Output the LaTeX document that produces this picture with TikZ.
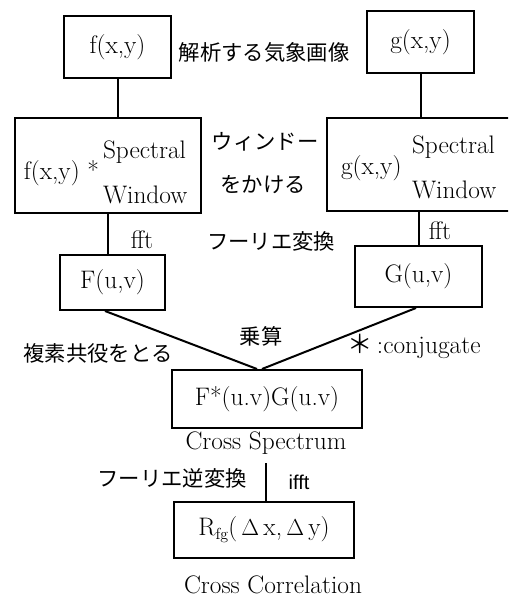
\documentclass[tikz,border=0pt]{standalone}
\usepackage{fontspec}
\newfontfamily\jpfont{Noto Sans CJK JP}
\newfontfamily\sansfont{Liberation Sans}
\begin{document}
\begin{tikzpicture}[x=0.75pt,y=-0.75pt, line width=1.5pt,
  box/.style={draw, rectangle, inner sep=0pt},
  lbl/.style={inner sep=0pt, font=\fontsize{19}{22}\selectfont},
  jlbl/.style={inner sep=0pt, font=\jpfont\fontsize{16}{19}\selectfont},
  slbl/.style={inner sep=0pt, font=\sansfont\fontsize{15}{18}\selectfont}]
\useasboundingbox (0,0) rectangle (508,599);
\begin{scope}
\clip (0,0) rectangle (508,599);
% boxes
\node[box, lbl, minimum width=80.25pt, minimum height=46.5pt] (fxy) at (117.5,47) {f(x,y)};
\node[box, lbl, minimum width=80.25pt, minimum height=46.5pt] (gxy) at (420.5,42) {g(x,y)};
\node[box, minimum width=139.5pt, minimum height=71.25pt] (fw) at (108,165.5) {};
\node[box, minimum width=152.25pt, minimum height=69.75pt] (gw) at (428.5,164.5) {};
\node[box, lbl, minimum width=78.75pt, minimum height=41.25pt] (Fuv) at (112.5,282.5) {F(u,v)};
\node[box, lbl, minimum width=95.25pt, minimum height=45.75pt] (Guv) at (418.5,276.5) {G(u,v)};
\node[box, lbl, minimum width=142.5pt, minimum height=43.5pt] (FG) at (267,399) {F*(u.v)G(u.v)};
\node[box, lbl, minimum width=135pt, minimum height=42pt] (R) at (264,530)
  {R\raisebox{-0.35ex}{\fontsize{12}{13}\selectfont fg}(\,$\Delta$\,x,\,$\Delta$\,y)};
\end{scope}
% texts inside window boxes
\node[lbl, anchor=east] (fwa) at (100,173) {f(x,y) *};
\node[lbl, anchor=west] (fwb) at (102,152) {Spectral};
\node[lbl, anchor=west] (fwc) at (102,195) {Window};
\node[lbl, anchor=west] (gwa) at (340,168) {g(x,y)};
\node[lbl, anchor=west] (gwb) at (411,147) {Spectral};
\node[lbl, anchor=west] (gwc) at (411,190) {Window};
% connectors
\draw (fxy.south) -- (fxy.south |- fw.north);
\draw (gxy.south) -- (gxy.south |- gw.north);
\draw (fw.south) -- (fw.south |- Fuv.north);
\draw (Guv.north) -- (Guv.north |- gw.south);
\draw ([xshift=-5.6pt]Fuv.south) -- ([xshift=-7.5pt]FG.north);
\draw ([xshift=-1.9pt]Guv.south) -- ([xshift=-3.75pt]FG.north);
\coordinate (ifftTop) at (266,463);
\draw (ifftTop) -- (ifftTop |- R.north);
% labels
\node[jlbl] (l1) at (264,52) {解析する気象画像};
\node[jlbl] (l2) at (265,142) {ウィンドー};
\node[jlbl] (l3) at (263,185) {をかける};
\node[lbl] (fft1) at (142,240) {fft};
\node[lbl] (fft2) at (440,231) {fft};
\node[jlbl] (l4) at (271,241) {フーリエ変換};
\node[jlbl] (l5) at (261,336) {乗算};
\node[jlbl] (l6) at (98,353) {複素共役をとる};
\node[lbl] (l7) at (414,346) {{\jpfont ＊}\,:conjugate};
\node[lbl] (cs) at (266,443) {Cross Spectrum};
\node[jlbl] (l8) at (172,478) {フーリエ逆変換};
\node[slbl] (ifft) at (299,482) {ifft};
\node[lbl] (cc) at (273,585) {Cross Correlation};
\end{tikzpicture}
\end{document}
